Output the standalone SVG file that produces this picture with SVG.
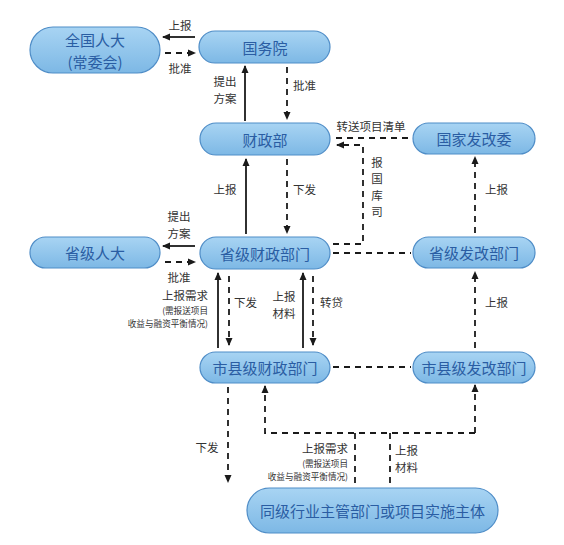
<svg xmlns="http://www.w3.org/2000/svg" width="564" height="545" viewBox="0 0 564 545">
<defs>
<linearGradient id="g" x1="0" y1="0" x2="0" y2="1">
<stop offset="0" stop-color="#a8d4f3"/>
<stop offset="1" stop-color="#7db8e5"/>
</linearGradient>
<marker id="ah" viewBox="0 0 8 8" refX="7" refY="4" markerWidth="8" markerHeight="8" markerUnits="userSpaceOnUse" orient="auto">
<path d="M0,0.5 L8,4 L0,7.5 Z" fill="#1a1a1a"/>
</marker>
<style>
.node rect{fill:url(#g);stroke:#4f8dc7;stroke-width:1.2}
.node text{fill:#2a5da3;font-family:"Noto Sans CJK SC","Noto Sans",sans-serif;font-size:15px;text-anchor:middle;dominant-baseline:central}
.s{stroke:#1a1a1a;stroke-width:1.8;fill:none}
.d{stroke:#1a1a1a;stroke-width:1.8;fill:none;stroke-dasharray:6 5}
.a{marker-end:url(#ah)}
.lb{fill:#333;font-family:"Noto Sans CJK SC","Noto Sans",sans-serif;font-size:11.5px;dominant-baseline:central}
.sm{font-size:8.6px}
.m{text-anchor:middle}
.e{text-anchor:end}
</style>
</defs>
<rect width="564" height="545" fill="#ffffff"/>
<g id="n1" class="node"><rect x="30" y="27" width="130" height="46" rx="23"/><text x="95" y="39.5">全国人大<tspan x="95" y="61">(常委会)</tspan></text></g>
<g id="n2" class="node"><rect x="199" y="31" width="131" height="32" rx="16"/><text x="265" y="47">国务院</text></g>
<g id="n3" class="node"><rect x="200" y="123" width="130" height="32" rx="16"/><text x="265" y="139">财政部</text></g>
<g id="n4" class="node"><rect x="413" y="123" width="122" height="31" rx="15.5"/><text x="474" y="138.5">国家发改委</text></g>
<g id="n5" class="node"><rect x="30" y="237" width="130" height="31" rx="15.5"/><text x="95" y="252.5">省级人大</text></g>
<g id="n6" class="node"><rect x="200" y="237" width="130" height="32" rx="16"/><text x="265" y="253">省级财政部门</text></g>
<g id="n7" class="node"><rect x="413" y="237" width="122" height="31" rx="15.5"/><text x="474" y="252.5">省级发改部门</text></g>
<g id="n8" class="node"><rect x="200" y="352" width="130" height="31" rx="15.5"/><text x="265" y="367.5">市县级财政部门</text></g>
<g id="n9" class="node"><rect x="413" y="352" width="122" height="31" rx="15.5"/><text x="474" y="367.5">市县级发改部门</text></g>
<g id="n10" class="node"><rect x="247" y="488" width="251" height="45" rx="22.5"/><text x="372.5" y="510.5">同级行业主管部门或项目实施主体</text></g>
<g id="connectors">
<line class="s a" x1="195" y1="37" x2="163" y2="37"/>
<line class="d a" x1="165" y1="53" x2="195" y2="53"/>
<line class="s a" x1="245" y1="121" x2="245" y2="66"/>
<line class="d a" x1="287" y1="67" x2="287" y2="119"/>
<line class="d" x1="408" y1="138" x2="333" y2="138"/>
<path class="d a" d="M333,244 H363 V145 H337"/>
<line class="d" x1="333" y1="253" x2="411" y2="253"/>
<line class="d a" x1="475" y1="233" x2="475" y2="157"/>
<line class="s a" x1="246" y1="234" x2="246" y2="159"/>
<line class="d a" x1="287" y1="159" x2="287" y2="233"/>
<line class="s a" x1="195" y1="246" x2="163" y2="246"/>
<line class="d a" x1="165" y1="262" x2="195" y2="262"/>
<line class="s a" x1="218" y1="348" x2="218" y2="273"/>
<line class="d a" x1="229" y1="276" x2="229" y2="345"/>
<line class="s a" x1="303" y1="348" x2="303" y2="273"/>
<line class="d a" x1="313" y1="276" x2="313" y2="345"/>
<line class="d" x1="333" y1="367" x2="411" y2="367"/>
<line class="d a" x1="475" y1="348" x2="475" y2="272"/>
<line class="d a" x1="228" y1="387" x2="228" y2="482"/>
<path class="d a" d="M475,433 H265 V386"/>
<line class="d a" x1="475" y1="433" x2="475" y2="385"/>
<line class="d" x1="355" y1="433" x2="355" y2="486"/>
<line class="d" x1="390" y1="433" x2="390" y2="486"/>
</g>
<g id="labels">
<text class="lb m" x="180" y="25">上报</text>
<text class="lb m" x="180" y="68">批准</text>
<text class="lb m" x="225" y="81">提出<tspan x="225" y="98">方案</tspan></text>
<text class="lb" x="293" y="85">批准</text>
<text class="lb m" x="371" y="126">转送项目清单</text>
<text class="lb m" x="377" y="161.5">报<tspan x="377" y="178">国</tspan><tspan x="377" y="194.5">库</tspan><tspan x="377" y="211">司</tspan></text>
<text class="lb" x="485" y="189">上报</text>
<text class="lb m" x="225" y="189">上报</text>
<text class="lb" x="293" y="189">下发</text>
<text class="lb m" x="179" y="216">提出<tspan x="179" y="233">方案</tspan></text>
<text class="lb m" x="179" y="277">批准</text>
<text class="lb e" x="208" y="295">上报需求<tspan class="sm" x="208" y="310">(需报送项目</tspan><tspan class="sm" x="208" y="323">收益与融资平衡情况)</tspan></text>
<text class="lb" x="234" y="302">下发</text>
<text class="lb m" x="284" y="295.5">上报<tspan x="284" y="312.5">材料</tspan></text>
<text class="lb" x="320" y="302">转贷</text>
<text class="lb" x="485" y="302">上报</text>
<text class="lb m" x="207" y="447">下发</text>
<text class="lb e" x="348" y="448">上报需求<tspan class="sm" x="348" y="463">(需报送项目</tspan><tspan class="sm" x="348" y="476">收益与融资平衡情况)</tspan></text>
<text class="lb" x="395" y="450">上报<tspan x="395" y="467">材料</tspan></text>
</g>
</svg>
